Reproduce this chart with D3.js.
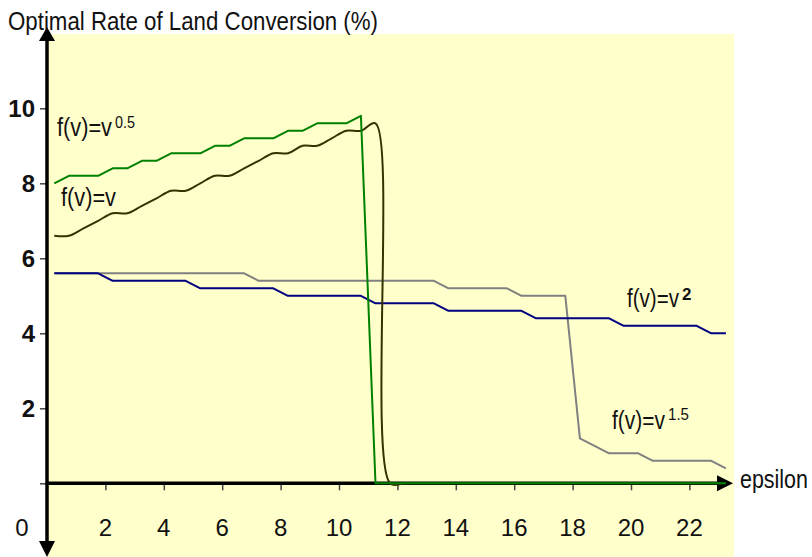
<!DOCTYPE html>
<html>
<head>
<meta charset="utf-8">
<style>
  body { margin: 0; background: #fff; }
  .lbl { font-family: "Liberation Sans Narrow", "Arial Narrow", "Liberation Sans", Arial, sans-serif; fill: #111; }
  .num { font-family: "Liberation Sans", Arial, sans-serif; fill: #111; font-size: 24px; }
  .series { fill: none; stroke-width: 2; stroke-linejoin: round; }
</style>
</head>
<body>
<svg width="812" height="557"></svg>
<script src="https://d3js.org/d3.v7.min.js"></script>
<script>
// epsilon values of the points (category centres)
var epsilon = [0.25, 0.75, 1.25, 1.75, 2.25, 2.75, 3.25, 3.75, 4.25, 4.75,
  5.25, 5.75, 6.25, 6.75, 7.25, 7.75, 8.25, 8.75, 9.25, 9.75,
  10.25, 10.75, 11.25, 11.75, 12.25, 12.75, 13.25, 13.75, 14.25, 14.75,
  15.25, 15.75, 16.25, 16.75, 17.25, 17.75, 18.25, 18.75, 19.25, 19.75,
  20.25, 20.75, 21.25, 21.75, 22.25, 22.75, 23.25];

// f(v)=v^0.5
var sqrtRate = [8.0, 8.2, 8.2, 8.2, 8.4, 8.4, 8.6, 8.6, 8.8, 8.8,
  8.8, 9.0, 9.0, 9.2, 9.2, 9.2, 9.4, 9.4, 9.6, 9.6,
  9.6, 9.8, 0, 0, 0, 0, 0, 0, 0, 0,
  0, 0, 0, 0, 0, 0, 0, 0, 0, 0,
  0, 0, 0, 0, 0, 0, 0];

// f(v)=v
var linRate = [6.6, 6.6, 6.8, 7.0, 7.2, 7.2, 7.4, 7.6, 7.8, 7.8,
  8.0, 8.2, 8.2, 8.4, 8.6, 8.8, 8.8, 9.0, 9.0, 9.2,
  9.4, 9.4, 9.6, 0, 0, 0, 0, 0, 0, 0,
  0, 0, 0, 0, 0, 0, 0, 0, 0, 0,
  0, 0, 0, 0, 0, 0, 0];

// f(v)=v^1.5
var powRate = [5.6, 5.6, 5.6, 5.6, 5.6, 5.6, 5.6, 5.6, 5.6, 5.6,
  5.6, 5.6, 5.6, 5.6, 5.4, 5.4, 5.4, 5.4, 5.4, 5.4,
  5.4, 5.4, 5.4, 5.4, 5.4, 5.4, 5.4, 5.2, 5.2, 5.2,
  5.2, 5.2, 5.0, 5.0, 5.0, 5.0, 1.2, 1.0, 0.8, 0.8,
  0.8, 0.6, 0.6, 0.6, 0.6, 0.6, 0.4];

// f(v)=v^2
var sqRate = [5.6, 5.6, 5.6, 5.6, 5.4, 5.4, 5.4, 5.4, 5.4, 5.4,
  5.2, 5.2, 5.2, 5.2, 5.2, 5.2, 5.0, 5.0, 5.0, 5.0,
  5.0, 5.0, 4.8, 4.8, 4.8, 4.8, 4.8, 4.6, 4.6, 4.6,
  4.6, 4.6, 4.6, 4.4, 4.4, 4.4, 4.4, 4.4, 4.4, 4.2,
  4.2, 4.2, 4.2, 4.2, 4.2, 4.0, 4.0];

var xTicks = [2, 4, 6, 8, 10, 12, 14, 16, 18, 20, 22];
var yTicks = [0, 2, 4, 6, 8, 10];
var yLabels = [2, 4, 6, 8, 10];

var x = d3.scaleLinear().domain([0, 22]).range([47, 689.4]);
var y = d3.scaleLinear().domain([0, 10]).range([483.3, 108.3]);

var svg = d3.select("svg");

// plot background
svg.append("rect")
  .attr("x", 47).attr("y", 34)
  .attr("width", 687).attr("height", 523)
  .attr("fill", "#FFFFCC");

// tick marks
svg.append("g")
  .attr("transform", "translate(0," + y(0) + ")")
  .call(d3.axisBottom(x).tickValues(xTicks).tickSize(7).tickSizeOuter(0).tickFormat(""));
svg.append("g")
  .attr("transform", "translate(" + x(0) + ",0)")
  .call(d3.axisLeft(y).tickValues(yTicks).tickSize(7).tickSizeOuter(0).tickFormat(""));
svg.selectAll(".domain").remove();
svg.selectAll(".tick line").attr("stroke", "#444").attr("stroke-width", 1.5);

// tick labels
svg.selectAll(".xlab")
  .data(xTicks)
  .enter().append("text")
  .attr("class", "num")
  .attr("x", function(d) { return x(d); })
  .attr("y", 536)
  .attr("text-anchor", "middle")
  .text(function(d) { return d; });

svg.selectAll(".ylab")
  .data(yLabels)
  .enter().append("text")
  .attr("class", "num")
  .attr("x", 35)
  .attr("y", function(d) { return y(d) + 8.5; })
  .attr("text-anchor", "end")
  .attr("font-weight", "bold")
  .text(function(d) { return d; });

svg.append("text").attr("class", "num")
  .attr("x", 22).attr("y", 536).attr("text-anchor", "middle").text("0");

// axes with arrows
svg.append("line")
  .attr("x1", x(0)).attr("x2", 720)
  .attr("y1", y(0)).attr("y2", y(0))
  .attr("stroke", "#000").attr("stroke-width", 3.5);
svg.append("line")
  .attr("x1", x(0)).attr("x2", x(0))
  .attr("y1", 38).attr("y2", 545)
  .attr("stroke", "#000").attr("stroke-width", 3.5);
svg.append("path")
  .attr("d", "M733," + y(0) + "L717," + (y(0) - 8) + "L717," + (y(0) + 8) + "Z")
  .attr("fill", "#000");
svg.append("path")
  .attr("d", "M47,27L39,41L55,41Z")
  .attr("fill", "#000");
svg.append("path")
  .attr("d", "M47,557L39,541L55,541Z")
  .attr("fill", "#000");

// series
function lineFor(vals, curve) {
  return d3.line()
    .x(function(d, i) { return x(epsilon[i]); })
    .y(function(d) { return y(d); })
    .curve(curve)(vals);
}

svg.append("path").attr("class", "series")
  .attr("stroke", "#808080").attr("d", lineFor(powRate, d3.curveLinear));
svg.append("path").attr("class", "series")
  .attr("stroke", "#000080").attr("d", lineFor(sqRate, d3.curveLinear));
svg.append("path").attr("class", "series")
  .attr("stroke", "#333300").attr("d", lineFor(linRate, d3.curveCatmullRom.alpha(0.5)));
svg.append("path").attr("class", "series")
  .attr("stroke", "#008000").attr("stroke-width", 2.5).attr("d", lineFor(sqrtRate, d3.curveLinear));

// text labels
function label(txt, lx, ly, size, len) {
  svg.append("text").attr("class", "lbl")
    .attr("x", lx).attr("y", ly)
    .attr("font-size", size)
    .attr("textLength", len).attr("lengthAdjust", "spacingAndGlyphs")
    .text(txt);
}

label("Optimal Rate of Land Conversion (%)", 8, 29.5, 26, 370);
label("epsilon", 740, 488, 26, 68);

label("f(v)=v", 57, 136, 26, 55);
label("0.5", 115, 128, 17, 20);
label("f(v)=v", 61, 206, 26, 55);
label("f(v)=v", 627, 307, 26, 52);
svg.append("text").attr("class", "lbl")
  .attr("x", 682).attr("y", 300).attr("font-size", 17)
  .attr("font-weight", "bold").text("2");
label("f(v)=v", 612, 429, 26, 53);
label("1.5", 668, 420, 17, 21);
</script>
</body>
</html>
